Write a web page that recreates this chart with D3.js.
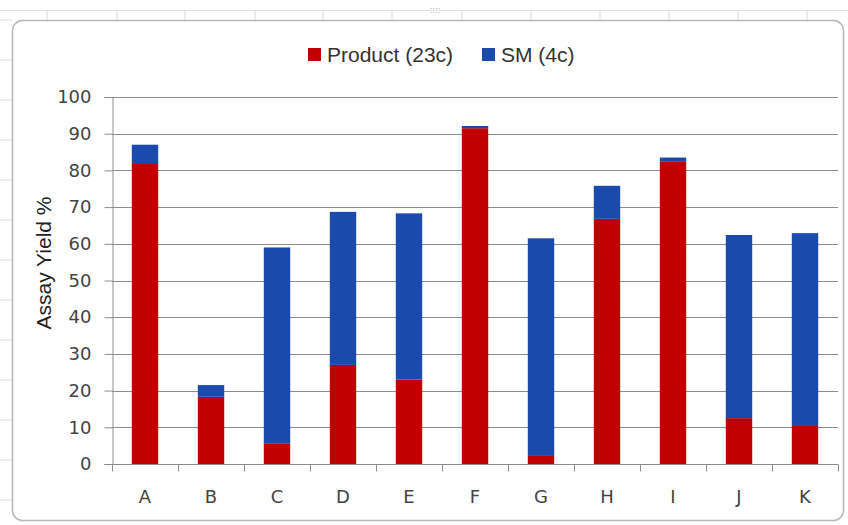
<!DOCTYPE html>
<html>
<head>
<meta charset="utf-8">
<script src="https://cdn.jsdelivr.net/npm/d3@7"></script>
<style>
  body { margin: 0; background: #fff; }
</style>
</head>
<body>
<div id="chart"></div>
<script>
// data
var categories = ["A", "B", "C", "D", "E", "F", "G", "H", "I", "J", "K"];
var product = [82, 18.3, 5.5, 27, 23, 91.5, 2.2, 66.8, 82.5, 12.5, 10.6];
var sm = [5, 3.2, 53.5, 41.7, 45.3, 0.6, 59.3, 9, 1, 49.9, 52.3];
var seriesNames = ["Product (23c)", "SM (4c)"];
var yTicks = [0, 10, 20, 30, 40, 50, 60, 70, 80, 90, 100];

var width = 848, height = 525;
var colors = ["#c00000", "#1a4aab"];
var labelFont = "'Liberation Sans', Arial, sans-serif";

var svg = d3.select("#chart")
    .append("svg")
    .attr("width", width)
    .attr("height", height);

// spreadsheet behind the chart
var sheet = svg.append("g");
[47, 117, 185, 255, 323, 392, 462, 531, 600, 669, 738, 807].forEach(function (x) {
    sheet.append("line")
        .attr("x1", x).attr("x2", x)
        .attr("y1", 10).attr("y2", 20)
        .attr("stroke", "#dadada");
});
d3.range(20, 525, 40).forEach(function (y) {
    sheet.append("line")
        .attr("x1", 0).attr("x2", 12)
        .attr("y1", y).attr("y2", y)
        .attr("stroke", "#dadada");
});
sheet.append("line")
    .attr("x1", 0).attr("x2", width)
    .attr("y1", 10.5).attr("y2", 10.5)
    .attr("stroke", "#e2e2e2");
sheet.append("text")
    .attr("x", 435).attr("y", 13)
    .attr("text-anchor", "middle")
    .style("font-family", "DejaVu Sans")
    .style("font-size", "8px")
    .attr("fill", "#aaa")
    .text("::::");

// chart area
svg.append("rect")
    .attr("x", 12.5).attr("y", 20.5)
    .attr("width", 831).attr("height", 500)
    .attr("rx", 10)
    .attr("fill", "#fff")
    .attr("stroke", "#b8b8b8")
    .attr("stroke-width", 1.5);

var margin = { left: 112, top: 97 };
var plotW = 838 - margin.left;
var plotH = 464 - margin.top;

var g = svg.append("g")
    .attr("transform", "translate(" + margin.left + "," + margin.top + ")");

var x = d3.scaleBand()
    .domain(categories)
    .range([0, plotW])
    .paddingInner(0.6)
    .paddingOuter(0.3);

var y = d3.scaleLinear()
    .domain([0, 100])
    .range([plotH, 0]);

// gridlines
g.selectAll(".grid")
    .data(yTicks.slice(1))
    .enter()
    .append("line")
    .attr("class", "grid")
    .attr("x1", 0).attr("x2", plotW)
    .attr("y1", d => Math.round(y(d)) + 0.5)
    .attr("y2", d => Math.round(y(d)) + 0.5)
    .attr("stroke", "#8c8c8c")
    .attr("stroke-width", 1);

// stacked bars
var rows = categories.map(function (c, i) {
    return { cat: c, product: product[i], sm: sm[i] };
});
var stack = d3.stack().keys(["product", "sm"]);
var layers = stack(rows);

g.selectAll(".layer")
    .data(layers)
    .enter()
    .append("g")
    .attr("class", "layer")
    .attr("fill", (d, i) => colors[i])
    .selectAll("rect")
    .data(d => d)
    .enter()
    .append("rect")
    .attr("x", d => x(d.data.cat))
    .attr("width", x.bandwidth())
    .attr("y", d => y(d[1]))
    .attr("height", d => y(d[0]) - y(d[1]));

// y axis
var yAxis = d3.axisLeft(y)
    .tickValues(yTicks)
    .tickSize(8)
    .tickPadding(13);
var ya = g.append("g")
    .attr("transform", "translate(0.5,0)")
    .call(yAxis);
ya.select(".domain").attr("stroke", "#8c8c8c");
ya.selectAll(".tick line").attr("stroke", "#8c8c8c");
ya.selectAll(".tick text")
    .style("font-family", "DejaVu Sans")
    .style("font-size", "18px")
    .attr("fill", "#444");

// x axis
var xa = g.append("g")
    .attr("transform", "translate(0," + (plotH + 0.5) + ")");
xa.append("line")
    .attr("x1", 0).attr("x2", plotW)
    .attr("stroke", "#8c8c8c");
xa.selectAll(".xtick")
    .data(d3.range(categories.length + 1))
    .enter()
    .append("line")
    .attr("x1", d => Math.round(d * x.step()) + 0.5)
    .attr("x2", d => Math.round(d * x.step()) + 0.5)
    .attr("y1", 0).attr("y2", 7)
    .attr("stroke", "#8c8c8c");
xa.selectAll(".xlabel")
    .data(categories)
    .enter()
    .append("text")
    .attr("x", d => x(d) + x.bandwidth() / 2)
    .attr("y", 38)
    .attr("text-anchor", "middle")
    .style("font-family", "DejaVu Sans")
    .style("font-size", "18px")
    .attr("fill", "#444")
    .text(d => d);

// y axis title
svg.append("text")
    .attr("transform", "translate(51,263) rotate(-90)")
    .attr("text-anchor", "middle")
    .style("font-family", labelFont)
    .style("font-size", "21px")
    .attr("fill", "#222")
    .text("Assay Yield %");

// legend
var legendX = [308, 482];
var legend = svg.selectAll(".legend")
    .data(seriesNames)
    .enter()
    .append("g")
    .attr("class", "legend")
    .attr("transform", (d, i) => "translate(" + legendX[i] + ",48)");
legend.append("rect")
    .attr("width", 13)
    .attr("height", 13)
    .attr("fill", (d, i) => colors[i]);
legend.append("text")
    .attr("x", 19)
    .attr("y", 14)
    .style("font-family", labelFont)
    .style("font-size", "21px")
    .attr("fill", "#333")
    .text(d => d);
</script>
</body>
</html>
